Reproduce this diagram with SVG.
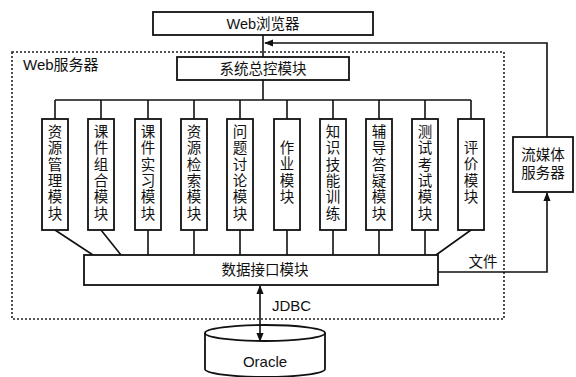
<svg xmlns="http://www.w3.org/2000/svg" width="576" height="377" viewBox="0 0 576 377">
<style>
.box{fill:#fff;stroke:#111;stroke-width:1.8}
.ln{fill:none;stroke:#111;stroke-width:1.6}
.t{font-family:"Liberation Sans","Noto Sans CJK SC",sans-serif;font-size:14.5px;fill:#111;text-anchor:middle;dominant-baseline:central}
.v{font-family:"Liberation Sans","Noto Sans CJK SC",sans-serif;font-size:14.5px;fill:#111;text-anchor:middle}
.l{font-family:"Liberation Sans","Noto Sans CJK SC",sans-serif;font-size:15px;fill:#111}
</style>
<defs>
<marker id="ah" viewBox="0 0 10 10" refX="9" refY="5" markerWidth="9" markerHeight="9" markerUnits="userSpaceOnUse" orient="auto-start-reverse">
<path d="M0,1 L10,5 L0,9 Z" fill="#111"/>
</marker>
</defs>
<rect width="576" height="377" fill="#fff"/>
<g id="webserver-frame">
<rect x="12" y="52" width="492" height="267" fill="none" stroke="#222" stroke-width="1.6" stroke-dasharray="2,2"/>
<text class="l" x="23" y="70">Web服务器</text>
</g>
<g id="connectors">
<line class="ln" x1="263" y1="35" x2="263" y2="57"/>
<line class="ln" x1="263" y1="80" x2="263" y2="100"/>
<line class="ln" x1="55" y1="100" x2="471" y2="100"/>
<path class="ln" d="M55,100V119M101,100V119M148,100V119M194,100V119M240,100V119M287,100V119M333,100V119M379,100V119M425,100V119M471,100V119"/>
<path class="ln" d="M55,230L93,255M101,230L121,255M148,230V255M194,230V255M240,230V255M287,230V255M333,230V255M379,230V255M425,230V255M471,230L436,255"/>
<path class="ln" d="M547,137V43H265" marker-end="url(#ah)"/>
<path class="ln" d="M438,272H547V193" marker-end="url(#ah)"/>
<line class="ln" x1="260" y1="286" x2="260" y2="341" marker-start="url(#ah)" marker-end="url(#ah)"/>
<text class="v" x="483" y="267">文件</text>
<text class="l" x="272" y="311">JDBC</text>
</g>
<g id="browser">
<rect class="box" x="153" y="12" width="220" height="23"/>
<text class="t" x="263" y="24">Web浏览器</text>
</g>
<g id="control">
<rect class="box" x="177" y="57" width="172" height="23"/>
<text class="t" x="263" y="69">系统总控模块</text>
</g>
<g id="m1"><rect class="box" x="42" y="119" width="26" height="111"/><text class="v" x="55" y="137"><tspan x="55" dy="0">资</tspan><tspan x="55" dy="16.3">源</tspan><tspan x="55" dy="16.3">管</tspan><tspan x="55" dy="16.3">理</tspan><tspan x="55" dy="16.3">模</tspan><tspan x="55" dy="16.3">块</tspan></text></g>
<g id="m2"><rect class="box" x="88" y="119" width="26" height="111"/><text class="v" x="101" y="137"><tspan x="101" dy="0">课</tspan><tspan x="101" dy="16.3">件</tspan><tspan x="101" dy="16.3">组</tspan><tspan x="101" dy="16.3">合</tspan><tspan x="101" dy="16.3">模</tspan><tspan x="101" dy="16.3">块</tspan></text></g>
<g id="m3"><rect class="box" x="135" y="119" width="26" height="111"/><text class="v" x="148" y="137"><tspan x="148" dy="0">课</tspan><tspan x="148" dy="16.3">件</tspan><tspan x="148" dy="16.3">实</tspan><tspan x="148" dy="16.3">习</tspan><tspan x="148" dy="16.3">模</tspan><tspan x="148" dy="16.3">块</tspan></text></g>
<g id="m4"><rect class="box" x="181" y="119" width="26" height="111"/><text class="v" x="194" y="137"><tspan x="194" dy="0">资</tspan><tspan x="194" dy="16.3">源</tspan><tspan x="194" dy="16.3">检</tspan><tspan x="194" dy="16.3">索</tspan><tspan x="194" dy="16.3">模</tspan><tspan x="194" dy="16.3">块</tspan></text></g>
<g id="m5"><rect class="box" x="227" y="119" width="26" height="111"/><text class="v" x="240" y="137"><tspan x="240" dy="0">问</tspan><tspan x="240" dy="16.3">题</tspan><tspan x="240" dy="16.3">讨</tspan><tspan x="240" dy="16.3">论</tspan><tspan x="240" dy="16.3">模</tspan><tspan x="240" dy="16.3">块</tspan></text></g>
<g id="m6"><rect class="box" x="274" y="119" width="26" height="111"/><text class="v" x="287" y="153"><tspan x="287" dy="0">作</tspan><tspan x="287" dy="16.3">业</tspan><tspan x="287" dy="16.3">模</tspan><tspan x="287" dy="16.3">块</tspan></text></g>
<g id="m7"><rect class="box" x="320" y="119" width="26" height="111"/><text class="v" x="333" y="137"><tspan x="333" dy="0">知</tspan><tspan x="333" dy="16.3">识</tspan><tspan x="333" dy="16.3">技</tspan><tspan x="333" dy="16.3">能</tspan><tspan x="333" dy="16.3">训</tspan><tspan x="333" dy="16.3">练</tspan></text></g>
<g id="m8"><rect class="box" x="366" y="119" width="26" height="111"/><text class="v" x="379" y="137"><tspan x="379" dy="0">辅</tspan><tspan x="379" dy="16.3">导</tspan><tspan x="379" dy="16.3">答</tspan><tspan x="379" dy="16.3">疑</tspan><tspan x="379" dy="16.3">模</tspan><tspan x="379" dy="16.3">块</tspan></text></g>
<g id="m9"><rect class="box" x="412" y="119" width="26" height="111"/><text class="v" x="425" y="137"><tspan x="425" dy="0">测</tspan><tspan x="425" dy="16.3">试</tspan><tspan x="425" dy="16.3">考</tspan><tspan x="425" dy="16.3">试</tspan><tspan x="425" dy="16.3">模</tspan><tspan x="425" dy="16.3">块</tspan></text></g>
<g id="m10"><rect class="box" x="458" y="119" width="26" height="111"/><text class="v" x="471" y="153"><tspan x="471" dy="0">评</tspan><tspan x="471" dy="16.3">价</tspan><tspan x="471" dy="16.3">模</tspan><tspan x="471" dy="16.3">块</tspan></text></g>
<g id="data">
<rect class="box" x="84" y="255" width="354" height="30"/>
<text class="t" x="265" y="270">数据接口模块</text>
</g>
<g id="stream">
<rect class="box" x="513" y="137" width="60" height="55"/>
<text class="v" x="543" y="160">流媒体</text>
<text class="v" x="543" y="178">服务器</text>
</g>
<g id="oracle">
<path d="M205,333V369A60,8 0 0 0 325,369V333" fill="#fff" stroke="#111" stroke-width="1.8"/>
<ellipse cx="265" cy="333" rx="60" ry="8" fill="#fff" stroke="#111" stroke-width="1.8"/>
<line class="ln" x1="260" y1="325" x2="260" y2="341" marker-end="url(#ah)"/>
<text class="l" x="265" y="367" text-anchor="middle">Oracle</text>
</g>
</svg>
